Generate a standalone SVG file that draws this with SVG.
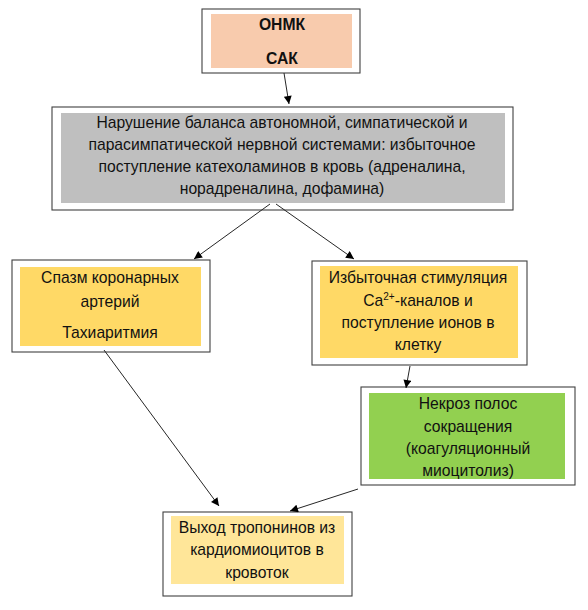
<svg xmlns="http://www.w3.org/2000/svg" width="588" height="610" viewBox="0 0 588 610">
<style>
.frame{fill:#ffffff;stroke:#404040;stroke-width:1.1}
.t{font-family:"Liberation Sans",Arial,sans-serif;font-size:15.7px;fill:#111111;text-anchor:middle}
.b{font-weight:bold}
.c{stroke:#262626;stroke-width:1;fill:none;marker-end:url(#ah)}
</style>
<defs>
<marker id="ah" viewBox="0 0 10 10" refX="10" refY="5" markerWidth="9" markerHeight="8" markerUnits="userSpaceOnUse" orient="auto">
<path d="M0,0 L10,5 L0,10 Z" fill="#000000"/>
</marker>
</defs>
<rect width="588" height="610" fill="#ffffff"/>
<g id="node-onmk">
<rect class="frame" x="202" y="9" width="158" height="64"/>
<rect x="211" y="14" width="141" height="54" fill="#F8CBAD"/>
<text class="t b" x="282" y="30">ОНМК</text>
<text class="t b" x="282" y="64">САК</text>
</g>
<g id="node-balance">
<rect class="frame" x="52" y="107" width="461" height="103"/>
<rect x="61" y="113" width="444" height="90" fill="#BFBFBF"/>
<text class="t" x="282" y="128">Нарушение баланса автономной, симпатической и</text>
<text class="t" x="282" y="150">парасимпатической нервной системами: избыточное</text>
<text class="t" x="282" y="172">поступление катехоламинов в кровь (адреналина,</text>
<text class="t" x="282" y="194">норадреналина, дофамина)</text>
</g>
<g id="node-spasm">
<rect class="frame" x="12" y="260" width="198" height="92"/>
<rect x="20" y="267" width="181" height="79" fill="#FFD966"/>
<text class="t" x="110" y="283">Спазм коронарных</text>
<text class="t" x="110" y="307">артерий</text>
<text class="t" x="110" y="338">Тахиаритмия</text>
</g>
<g id="node-calcium">
<rect class="frame" x="312" y="261" width="215" height="104"/>
<rect x="320" y="266" width="198" height="92" fill="#FFD966"/>
<text class="t" x="418" y="283">Избыточная стимуляция</text>
<text class="t" x="418" y="306">Ca<tspan font-size="10px" dy="-6">2+</tspan><tspan dy="6">-каналов и</tspan></text>
<text class="t" x="418" y="328">поступление ионов в</text>
<text class="t" x="418" y="350">клетку</text>
</g>
<g id="node-necrosis">
<rect class="frame" x="361" y="387" width="214" height="98"/>
<rect x="369" y="393" width="196" height="86" fill="#92D050"/>
<text class="t" x="468" y="409">Некроз полос</text>
<text class="t" x="468" y="432">сокращения</text>
<text class="t" x="468" y="454">(коагуляционный</text>
<text class="t" x="468" y="476">миоцитолиз)</text>
</g>
<g id="node-troponin">
<rect class="frame" x="163" y="512" width="189" height="84"/>
<rect x="171" y="516" width="173" height="68" fill="#FFE699"/>
<text class="t" x="257" y="533">Выход тропонинов из</text>
<text class="t" x="257" y="555">кардиомиоцитов в</text>
<text class="t" x="257" y="578">кровоток</text>
</g>
<g id="connectors">
<line class="c" x1="284" y1="73" x2="289" y2="104"/>
<line class="c" x1="270" y1="204" x2="194" y2="259"/>
<line class="c" x1="276" y1="204" x2="354" y2="259"/>
<line class="c" x1="104" y1="350" x2="219" y2="506"/>
<line class="c" x1="410" y1="366" x2="406" y2="388"/>
<line class="c" x1="358" y1="489" x2="290" y2="511"/>
</g>
</svg>
